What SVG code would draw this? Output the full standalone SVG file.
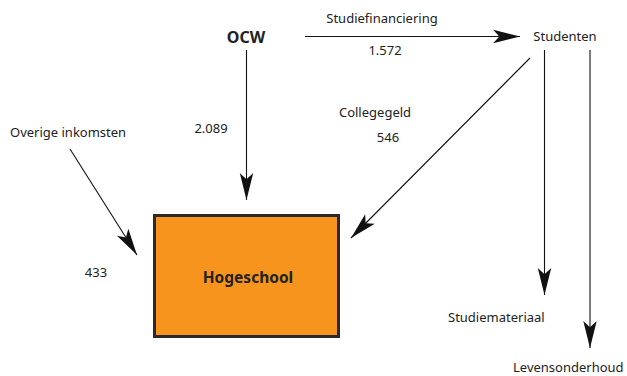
<svg xmlns="http://www.w3.org/2000/svg" width="627" height="376" viewBox="0 0 627 376">
<style>
text{font-family:"Noto Sans","Open Sans",sans-serif;font-size:13px;fill:#222}
text.b{font-weight:bold;font-size:16px}
text.h{font-weight:bold;font-size:15.5px}
.c{stroke:#111;stroke-width:1.1;fill:none;marker-end:url(#ah)}
</style>
<defs>
<marker id="ah" markerUnits="userSpaceOnUse" markerWidth="30" markerHeight="20" viewBox="-27 -8 29 16" refX="0" refY="0" orient="auto">
<path d="M0,0 L-26,-6.5 L-20,0 L-26,6.5 Z" fill="#111"/>
</marker>
</defs>
<rect width="627" height="376" fill="#fff"/>
<g id="edges">
<path class="c" d="M305,36.5 H520"/>
<path class="c" d="M246.5,50 V200"/>
<path class="c" d="M70,149 L137,255"/>
<path class="c" d="M530,58 L351,238"/>
<path class="c" d="M544.5,50 V295"/>
<path class="c" d="M590,50 V348"/>
</g>
<g id="ocw"><text class="b" x="246" y="43" text-anchor="middle">OCW</text></g>
<g id="studenten"><text x="565" y="41" text-anchor="middle">Studenten</text></g>
<g id="hogeschool">
<rect x="154.5" y="215.5" width="184" height="121" fill="#F7941D" stroke="#2a2a2a" stroke-width="3"/>
<text class="h" x="248" y="283" text-anchor="middle">Hogeschool</text>
</g>
<g id="overige"><text x="10" y="137">Overige inkomsten</text></g>
<g id="studiemateriaal"><text x="448" y="322">Studiemateriaal</text></g>
<g id="levensonderhoud"><text x="513" y="372">Levensonderhoud</text></g>
<g id="labels">
<text x="382" y="23" text-anchor="middle">Studiefinanciering</text>
<text x="385" y="55" text-anchor="middle">1.572</text>
<text x="211" y="133" text-anchor="middle">2.089</text>
<text x="375" y="117" text-anchor="middle">Collegegeld</text>
<text x="388" y="142" text-anchor="middle">546</text>
<text x="96" y="277" text-anchor="middle">433</text>
</g>
</svg>
